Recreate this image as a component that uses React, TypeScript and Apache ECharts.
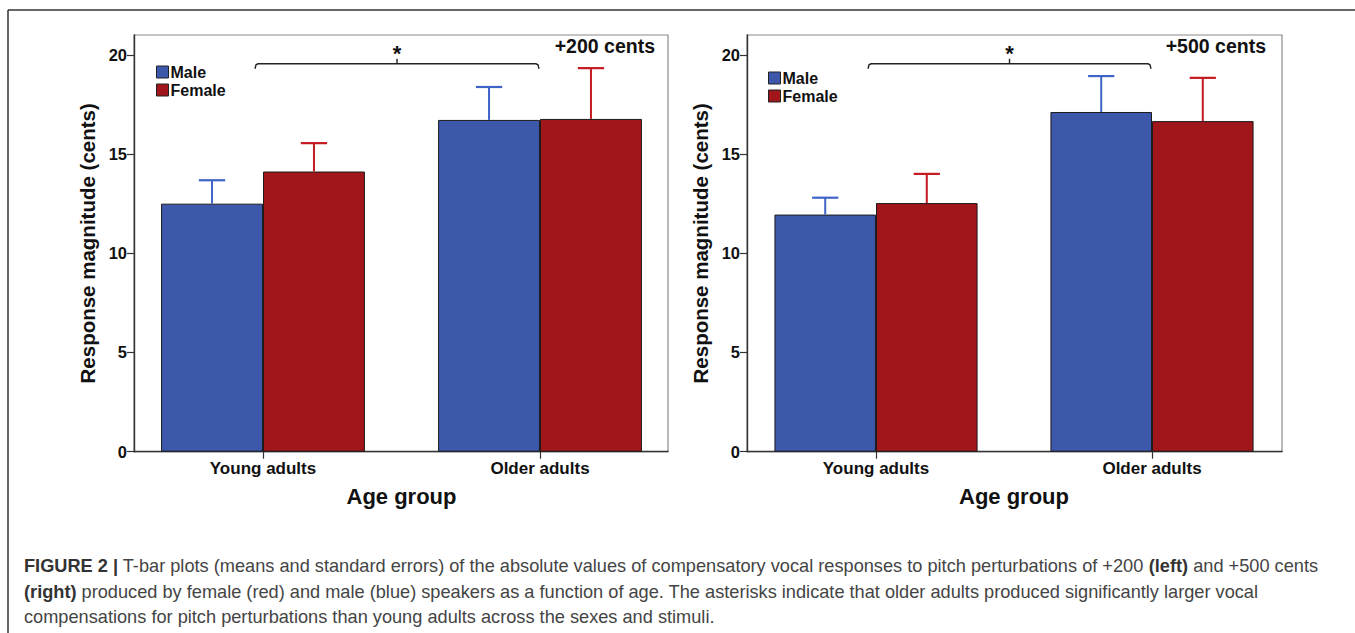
import React, { useEffect, useRef } from "react";
import * as echarts from "echarts";

const categories = ["Young adults", "Older adults"];
const seriesNames = ["Male", "Female"];
const yTicks = [0, 5, 10, 15, 20];
const Y_MAX = 21;

// +200 cents panel
const male200 = [12.5, 16.72];
const female200 = [14.12, 16.77];
const maleSE200 = [13.68, 18.38];
const femaleSE200 = [15.55, 19.33];

// +500 cents panel
const male500 = [11.95, 17.12];
const female500 = [12.53, 16.66];
const maleSE500 = [12.8, 18.93];
const femaleSE500 = [14.0, 18.84];

// significance bracket (from group index to group index, at value)
const bracketValue = 19.55;

const panelLabels = ["+200 cents", "+500 cents"];
const yTitle = "Response magnitude (cents)";
const xTitle = "Age group";

const captionLines = [
  "{b|FIGURE 2 |}{r| T-bar plots (means and standard errors) of the absolute values of compensatory vocal responses to pitch perturbations of +200 }{b|(left)}{r| and +500 cents}",
  "{b|(right)}{r| produced by female (red) and male (blue) speakers as a function of age. The asterisks indicate that older adults produced significantly larger vocal}",
  "{r|compensations for pitch perturbations than young adults across the sexes and stimuli.}",
];

const BLUE = "#3d57ab";
const RED = "#a0161b";
const BLUE_ERR = "#3f63c6";
const RED_ERR = "#c41a22";
const BAR_FRAC = 0.368;
const FONT = "Liberation Sans, Arial, sans-serif";

function errSeries(name: string, xi: number, base: number[], err: number[], color: string, side: number) {
  return {
    type: "custom",
    name: name + " SE",
    xAxisIndex: xi,
    yAxisIndex: xi,
    z: 5,
    encode: { x: 0, y: [1, 2] },
    data: base.map((v, i) => [i, v, err[i]]),
    renderItem: (params: any, api: any) => {
      const c = api.value(0);
      const b = api.coord([c, api.value(1)]);
      const t = api.coord([c, api.value(2)]);
      const band = api.size([1, 0])[0];
      const x = b[0] + side * band * BAR_FRAC / 2;
      const capW = band * 0.095;
      return {
        type: "group",
        children: [
          { type: "line", shape: { x1: x, y1: b[1], x2: x, y2: t[1] }, style: { stroke: color, lineWidth: 2 } },
          { type: "line", shape: { x1: x - capW / 2, y1: t[1], x2: x + capW / 2, y2: t[1] }, style: { stroke: color, lineWidth: 2.2 } },
        ],
      };
    },
  };
}

function bracketSeries(xi: number) {
  return {
    type: "custom",
    name: "bracket",
    xAxisIndex: xi,
    yAxisIndex: xi,
    z: 6,
    encode: { x: [0, 1], y: 2 },
    data: [[0, 1, bracketValue]],
    renderItem: (params: any, api: any) => {
      const p0 = api.coord([api.value(0), api.value(2)]);
      const p1 = api.coord([api.value(1), api.value(2)]);
      const x0 = p0[0] - 8;
      const x1 = p1[0] - 1;
      const y = p0[1];
      const xm = (x0 + x1) / 2;
      return {
        type: "group",
        children: [
          {
            type: "polyline",
            shape: { points: [[x0, y + 5], [x0 + 1, y + 1], [x0 + 3, y], [x1 - 3, y], [x1 - 1, y + 1], [x1, y + 5]] },
            style: { stroke: "#222", lineWidth: 1.4, fill: "none" },
          },
          { type: "line", shape: { x1: xm, y1: y, x2: xm, y2: y - 5 }, style: { stroke: "#222", lineWidth: 1.4 } },
          {
            type: "text",
            style: { text: "*", x: xm, y: y - 10, align: "center", verticalAlign: "middle", fontSize: 22, fontWeight: "bold", fontFamily: FONT, fill: "#111" },
          },
        ],
      };
    },
  };
}

function barSeries(name: string, xi: number, data: number[], color: string) {
  return {
    type: "bar",
    name,
    xAxisIndex: xi,
    yAxisIndex: xi,
    data,
    barWidth: BAR_FRAC * 100 + "%",
    barGap: "0%",
    itemStyle: { color, borderColor: "#1c1c1c", borderWidth: 1 },
  };
}

const TOP = 35;
const H = 416.7;

function panelAxes(barLeft: number, barWidth: number, frameLeft: number, frameWidth: number) {
  return [
    { left: barLeft, top: TOP, width: barWidth, height: H, show: false },
    { left: frameLeft, top: TOP, width: frameWidth, height: H, show: true, borderColor: "#8a8a8a", borderWidth: 1.2, backgroundColor: "transparent" },
  ];
}

export default function App() {
  const ref = useRef<HTMLDivElement>(null);
  useEffect(() => {
    if (!ref.current) return;
    const chart = echarts.init(ref.current, undefined, { renderer: "svg" });
    const grids = [...panelAxes(124.5, 554, 134, 534), ...panelAxes(738, 552, 747, 535)];
    const catAxis = (gi: number) => ({
      type: "category",
      gridIndex: gi,
      data: categories,
      axisLine: { show: false },
      axisTick: { show: true, alignWithLabel: true, length: 7, lineStyle: { color: "#333", width: 1.2 } },
      axisLabel: { fontSize: 17, fontWeight: "bold", color: "#111", margin: 8, fontFamily: FONT },
      name: xTitle,
      nameLocation: "middle",
      nameGap: 34,
      nameTextStyle: { fontSize: 22, fontWeight: "bold", color: "#111", fontFamily: FONT },
    });
    const frameX = (gi: number) => ({
      type: "value",
      gridIndex: gi,
      min: 0,
      max: 1,
      axisLine: { show: true, lineStyle: { color: "#333", width: 1.4 } },
      axisTick: { show: false },
      axisLabel: { show: false },
      splitLine: { show: false },
    });
    const hiddenY = (gi: number) => ({ type: "value", gridIndex: gi, min: 0, max: Y_MAX, show: false, splitLine: { show: false } });
    const frameY = (gi: number) => ({
      type: "value",
      gridIndex: gi,
      min: 0,
      max: Y_MAX,
      axisLine: { show: true, lineStyle: { color: "#333", width: 1.4 } },
      axisTick: { show: true, length: 7, customValues: yTicks, lineStyle: { color: "#333", width: 1.2 } },
      axisLabel: { customValues: yTicks, fontSize: 16.5, fontWeight: "bold", color: "#111", margin: 7, fontFamily: FONT },
      splitLine: { show: false },
      name: yTitle,
      nameLocation: "middle",
      nameRotate: 90,
      nameGap: 36,
      nameTextStyle: { fontSize: 20.5, fontWeight: "bold", color: "#111", fontFamily: FONT },
    });
    const legendCfg = (left: number, top: number) => ({
      left,
      top,
      orient: "vertical",
      padding: 0,
      itemWidth: 12,
      itemHeight: 12,
      itemGap: 2,
      icon: "rect",
      data: seriesNames,
      selectedMode: false,
      itemStyle: { borderColor: "#222", borderWidth: 1 },
      textStyle: { fontSize: 16, fontWeight: "bold", color: "#111", fontFamily: FONT, padding: [0, 0, 0, -3] },
    });
    const option: any = {
      animation: false,
      backgroundColor: "#fff",
      grid: grids,
      xAxis: [catAxis(0), frameX(1), catAxis(2), frameX(3)],
      yAxis: [hiddenY(0), frameY(1), hiddenY(2), frameY(3)],
      legend: [legendCfg(156, 64), legendCfg(768, 70)],
      series: [
        barSeries("Male", 0, male200, BLUE),
        barSeries("Female", 0, female200, RED),
        errSeries("Male", 0, male200, maleSE200, BLUE_ERR, -1),
        errSeries("Female", 0, female200, femaleSE200, RED_ERR, 1),
        bracketSeries(0),
        barSeries("Male", 2, male500, BLUE),
        barSeries("Female", 2, female500, RED),
        errSeries("Male", 2, male500, maleSE500, BLUE_ERR, -1),
        errSeries("Female", 2, female500, femaleSE500, RED_ERR, 1),
        bracketSeries(2),
      ],
      graphic: [
        { type: "line", shape: { x1: 8, y1: 10, x2: 1355, y2: 10 }, style: { stroke: "#333", lineWidth: 1.5 } },
        { type: "line", shape: { x1: 8, y1: 10, x2: 8, y2: 633 }, style: { stroke: "#333", lineWidth: 1.5 } },
        {
          type: "text",
          style: { text: panelLabels[0], x: 655, y: 46, align: "right", verticalAlign: "middle", fontSize: 19.5, fontWeight: "bold", fontFamily: FONT, fill: "#111" },
        },
        {
          type: "text",
          style: { text: panelLabels[1], x: 1266, y: 46, align: "right", verticalAlign: "middle", fontSize: 19.5, fontWeight: "bold", fontFamily: FONT, fill: "#111" },
        },
        ...captionLines.map((t, i) => ({
          type: "text",
          style: {
            text: t,
            x: 24,
            y: 566 + i * 25.5,
            verticalAlign: "middle",
            rich: {
              b: { fontSize: 18.2, fontWeight: "bold", fontFamily: FONT, fill: "#333" },
              r: { fontSize: 18.2, fontFamily: FONT, fill: "#444" },
            },
          },
        })),
      ],
    };
    chart.setOption(option);
    return () => chart.dispose();
  }, []);
  return <div ref={ref} style={{ position: "fixed", left: 0, top: 0, width: 1355, height: 633 }} />;
}
